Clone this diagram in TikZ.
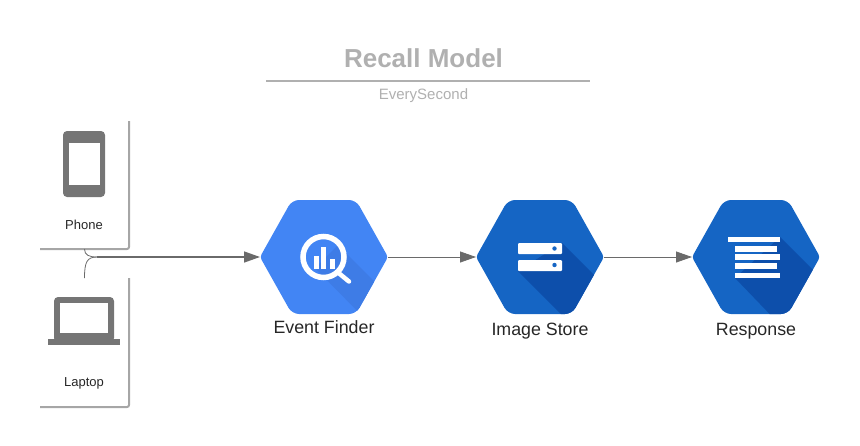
\documentclass[tikz,border=0pt]{standalone}
\usepackage{fontspec}
\setmainfont{Liberation Sans}
\usepackage{xcolor}
\usetikzlibrary{arrows.meta}
\definecolor{iconGray}{HTML}{757575}
\definecolor{wireGray}{HTML}{6A6A6A}
\definecolor{cardGray}{HTML}{A6A6A6}
\definecolor{titleGray}{HTML}{B0B0B0}
\definecolor{finderBlue}{HTML}{4285F4}
\definecolor{finderDark}{HTML}{3E7CE6}
\definecolor{storeBlue}{HTML}{1565C4}
\definecolor{storeDark}{HTML}{0D4FAB}
\newcommand{\hexpath}[1]{(#1.north) [rounded corners=7] -- ++(32,0) [rounded corners=3] -- ++(32,57) [rounded corners=7] -- ++(-32,57) -- ++(-64,0) [rounded corners=3] -- ++(-32,-57) [rounded corners=7] -- ++(32,-57) -- cycle}
\begin{document}
\begin{tikzpicture}[x=1pt,y=-1pt,
hexbox/.style={minimum width=128pt,minimum height=114pt,inner sep=0pt,outer sep=0pt},
cardbox/.style={minimum width=89pt,inner sep=0pt,outer sep=0pt},
cardline/.style={draw=cardGray,line width=2pt,rounded corners=2pt},
curve/.style={draw=wireGray,line width=0.8pt},
wire/.style={draw=wireGray,line width=0.8pt,-{Triangle[length=16pt,width=11pt,fill=wireGray]}},
hexlabel/.style={anchor=base,font=\fontsize{17.8}{20}\selectfont,text=black!85},
cardlabel/.style={anchor=base,font=\fontsize{13}{15}\selectfont,text=black!85}]
\useasboundingbox (0,0) rectangle (860,445);

\node[font=\fontsize{26}{30}\selectfont\bfseries,text=titleGray] (title) at (423.5,58.5) {Recall Model};
\coordinate (ruleL) at (266,80.5);
\coordinate (ruleR) at (590,80.5);
\draw[titleGray,line width=2pt] (ruleL) -- (ruleR);
\node[font=\fontsize{15}{18}\selectfont,text=titleGray] (subtitle) at (423.5,95.5) {EverySecond};

\node[cardbox,minimum height=128pt] (phone) at (84.5,185) {};
\node[cardbox,minimum height=129pt] (laptop) at (84.5,342.5) {};
\draw[cardline] (phone.north east) -- (phone.south east) -- (phone.south west);
\draw[cardline] (laptop.north east) -- (laptop.south east) -- (laptop.south west);
\node[cardlabel] (phonetext) at (84,229) {Phone};
\node[cardlabel] (laptoptext) at (84,386) {Laptop};

\fill[iconGray,rounded corners=4pt] (63,131) rectangle (105,197);
\fill[white] (69,143) rectangle (99.5,185);
\fill[iconGray,rounded corners=4pt] (54,297) rectangle (114,342);
\fill[white] (60,303) rectangle (108,333);
\fill[iconGray] (48,339) rectangle (120,345);

\node[hexbox] (finder) at (324,257) {};
\node[hexbox] (store) at (540,257) {};
\node[hexbox] (response) at (756,257) {};
\fill[finderBlue] \hexpath{finder};
\fill[storeBlue] \hexpath{store};
\fill[storeBlue] \hexpath{response};
\begin{scope}
\clip \hexpath{finder};
\fill[finderDark] (338,245) -- (400,307) -- (400,330) -- (376,330) -- (315,268) -- cycle;
\end{scope}
\begin{scope}
\clip \hexpath{store};
\fill[storeDark] (562,243) -- (620,301) -- (620,330) -- (577,330) -- (518,271) -- cycle;
\end{scope}
\begin{scope}
\clip \hexpath{response};
\fill[storeDark] (780,237) -- (840,297) -- (840,330) -- (785,330) -- (735,278) -- cycle;
\end{scope}

\draw[white,line width=5.5pt] (323.5,257) circle (20.5);
\fill[white] (313.5,255.5) rectangle (318.5,269);
\fill[white] (321,247) rectangle (326,269);
\fill[white] (330,259) rectangle (335,269);
\draw[white,line width=4.5pt,line cap=round] (338,272.5) -- (349,281.5);

\fill[white,rounded corners=1pt] (518,243) rectangle (562,254);
\fill[white,rounded corners=1pt] (518,260) rectangle (562,271);
\fill[storeBlue] (554.5,248.5) circle (2.2);
\fill[storeBlue] (554.5,265) circle (2.2);

\fill[white] (728,236.7) rectangle (780,242.3);
\fill[white] (735,245.7) rectangle (777.3,251.5);
\fill[white] (735,254.3) rectangle (780,260);
\fill[white] (735,263.3) rectangle (777.3,269.2);
\fill[white] (735,272.7) rectangle (780,278.3);

\node[hexlabel] (findertext) at (324,333) {Event Finder};
\node[hexlabel] (storetext) at (540,335) {Image Store};
\node[hexlabel] (responsetext) at (756,335) {Response};

\coordinate (join) at (97,257);
\draw[curve] (phone.south) .. controls +(0,6) and +(-8,0) .. (join);
\draw[curve] (laptop.north) .. controls +(0,-16) and +(-10,0) .. (join);
\draw[wire,line width=1.4pt] (join) -- (finder.west);
\draw[wire] (finder.east) -- (store.west);
\draw[wire] (store.east) -- (response.west);
\end{tikzpicture}
\end{document}
